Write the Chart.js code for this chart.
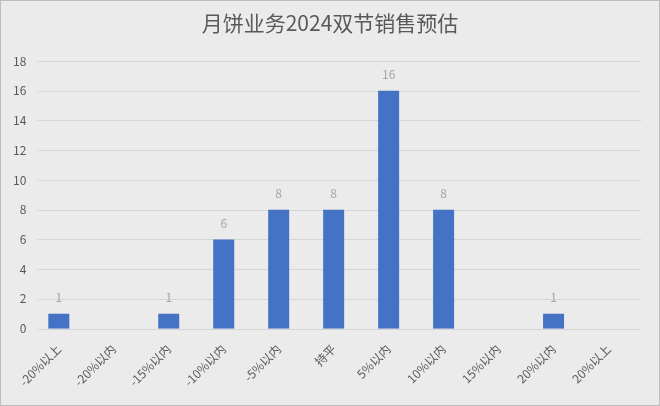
<!DOCTYPE html>
<html><head><meta charset="utf-8">
<script src="https://cdn.jsdelivr.net/npm/chart.js@4.4.1/dist/chart.umd.min.js"></script>
<style>
html,body{margin:0;padding:0;background:#ebebeb;}
#wrap{position:absolute;left:0;top:0;width:658px;height:404px;border:1px solid #bdbdbd;}
</style></head>
<body><div id="wrap"><canvas id="c" width="658" height="404"></canvas></div>
<script>
const titleText = '月饼业务2024双节销售预估';
const categories = ['-20%以上','-20%以内','-15%以内','-10%以内','-5%以内','持平','5%以内','10%以内','15%以内','20%以内','20%以上'];
const salesValues = [1, null, 1, 6, 8, 8, 16, 8, null, 1, null];
const yTicks = [0, 2, 4, 6, 8, 10, 12, 14, 16, 18];

const FONT = "'Noto Sans CJK SC','Noto Sans',sans-serif";

const bgPlugin = {
  id: 'bg',
  beforeDraw(chart) {
    const ctx = chart.ctx;
    ctx.save();
    ctx.fillStyle = '#ebebeb';
    ctx.fillRect(0, 0, chart.width, chart.height);
    ctx.fillStyle = '#595959';
    ctx.font = "21px " + FONT;
    ctx.textAlign = 'center';
    ctx.textBaseline = 'middle';
    ctx.fillText(titleText, chart.width / 2, 22);
    ctx.restore();
  }
};
const gridPlugin = {
  id: 'hgrid',
  beforeDatasetsDraw(chart) {
    const ctx = chart.ctx;
    const ys = chart.scales.y;
    const a = chart.chartArea;
    ctx.save();
    ctx.strokeStyle = '#d5d5d5';
    ctx.lineWidth = 1;
    yTicks.forEach(v => {
      const y = Math.round(ys.getPixelForValue(v)) + 0.5;
      ctx.beginPath();
      ctx.moveTo(a.left + 6, y);
      ctx.lineTo(a.right + 5, y);
      ctx.stroke();
    });
    ctx.restore();
  }
};
const labelPlugin = {
  id: 'vlabels',
  afterDatasetsDraw(chart) {
    const ctx = chart.ctx;
    const meta = chart.getDatasetMeta(0);
    ctx.save();
    ctx.fillStyle = '#a6a6a6';
    ctx.font = "12px " + FONT;
    ctx.textAlign = 'center';
    ctx.textBaseline = 'middle';
    meta.data.forEach((bar, i) => {
      const v = chart.data.datasets[0].data[i];
      if (v === null || v === undefined) return;
      ctx.fillText(String(v), bar.x, bar.y - 16);
    });
    ctx.restore();
  }
};

new Chart(document.getElementById('c'), {
  type: 'bar',
  data: {
    labels: categories,
    datasets: [{
      data: salesValues,
      backgroundColor: '#4472c4',
      barPercentage: 0.382,
      categoryPercentage: 1.0
    }]
  },
  options: {
    responsive: false,
    animation: false,
    devicePixelRatio: 1,
    layout: { padding: { left: 7, right: 23, top: 60, bottom: 3 } },
    plugins: {
      legend: { display: false },
      tooltip: { enabled: false },
      title: { display: false }
    },
    scales: {
      x: {
        grid: { display: false, drawTicks: false },
        border: { display: false },
        ticks: {
          color: '#595959',
          font: { family: FONT, size: 12 },
          maxRotation: 45,
          minRotation: 45,
          autoSkip: false,
          padding: 13
        }
      },
      y: {
        min: 0,
        max: 18,
        afterBuildTicks(axis) { axis.ticks = yTicks.map(v => ({ value: v })); },
        grid: { display: false, drawTicks: false },
        border: { display: false },
        ticks: {
          color: '#595959',
          font: { family: FONT, size: 12 },
          padding: 5
        }
      }
    }
  },
  plugins: [bgPlugin, gridPlugin, labelPlugin]
});
</script>
</body></html>
